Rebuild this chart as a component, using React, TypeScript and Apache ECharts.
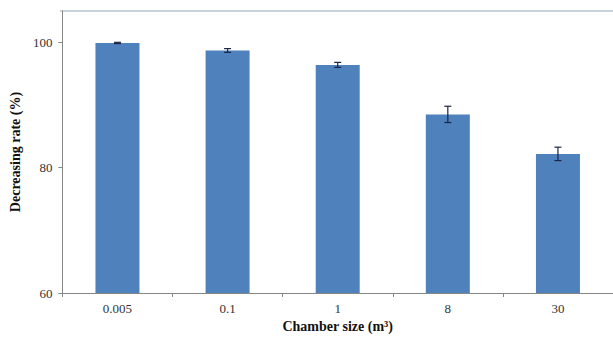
import React, { useEffect, useRef } from "react";
import * as echarts from "echarts";

const categories = ["0.005", "0.1", "1", "8", "30"];
const values = [99.9, 98.7, 96.4, 88.5, 82.2];
const errors = [0.1, 0.3, 0.4, 1.3, 1.07];
const yTicks = [60, 80, 100];

export default function App() {
  const ref = useRef<HTMLDivElement>(null);
  useEffect(() => {
    if (!ref.current) return;
    const chart = echarts.init(ref.current, undefined, { renderer: "svg" });
    const errData = values.map((v, i) => [i, v - errors[i], v + errors[i]]);
    chart.setOption({
      animation: false,
      backgroundColor: "#ffffff",
      grid: { left: 60, right: -3, top: 11, bottom: 48, containLabel: false },
      graphic: [
        {
          type: "line",
          shape: { x1: 60, y1: 11, x2: 613, y2: 11 },
          style: { stroke: "#8fa6b8", lineWidth: 1.2 },
        },
      ],
      xAxis: {
        type: "category",
        data: categories,
        boundaryGap: true,
        axisLine: { show: true, lineStyle: { color: "#868686", width: 1 } },
        axisTick: { show: true, alignWithLabel: false, length: 4, lineStyle: { color: "#868686" } },
        axisLabel: { fontFamily: "Liberation Serif", fontSize: 13, color: "#333333", margin: 9 },
        name: "Chamber size (m³)",
        nameLocation: "middle",
        nameGap: 25,
        nameTextStyle: { fontFamily: "Liberation Serif", fontWeight: "bold", fontSize: 14, color: "#111111" },
      },
      yAxis: {
        type: "value",
        min: 60,
        max: 105,
        interval: 20,
        splitLine: { show: false },
        axisLine: { show: true, lineStyle: { color: "#868686", width: 1 } },
        axisTick: { show: true, length: 4, lineStyle: { color: "#868686" } },
        axisLabel: {
          fontFamily: "Liberation Serif",
          fontSize: 13,
          color: "#333333",
          margin: 10,
          showMaxLabel: false,
          formatter: (v: number) => (yTicks.includes(v) ? String(v) : ""),
        },
        name: "Decreasing rate (%)",
        nameLocation: "middle",
        nameGap: 40,
        nameTextStyle: { fontFamily: "Liberation Serif", fontWeight: "bold", fontSize: 14, color: "#111111" },
      },
      series: [
        {
          type: "bar",
          data: values,
          barWidth: 44,
          itemStyle: { color: "#4f81bd" },
        },
        {
          type: "custom",
          data: errData,
          z: 10,
          renderItem: (params: any, api: any) => {
            const x = api.value(0);
            const lo = api.coord([x, api.value(1)]);
            const hi = api.coord([x, api.value(2)]);
            const cw = 3.5;
            const st = { stroke: "#1b2545", lineWidth: 1.2, fill: "none" };
            return {
              type: "group",
              children: [
                { type: "line", shape: { x1: lo[0], y1: lo[1], x2: hi[0], y2: hi[1] }, style: st },
                { type: "line", shape: { x1: lo[0] - cw, y1: lo[1], x2: lo[0] + cw, y2: lo[1] }, style: st },
                { type: "line", shape: { x1: hi[0] - cw, y1: hi[1], x2: hi[0] + cw, y2: hi[1] }, style: st },
              ],
            };
          },
        },
      ],
    });
    return () => chart.dispose();
  }, []);
  return (
    <div
      ref={ref}
      style={{ position: "absolute", left: 0, top: 0, width: 613, height: 341, background: "#fff" }}
    />
  );
}
